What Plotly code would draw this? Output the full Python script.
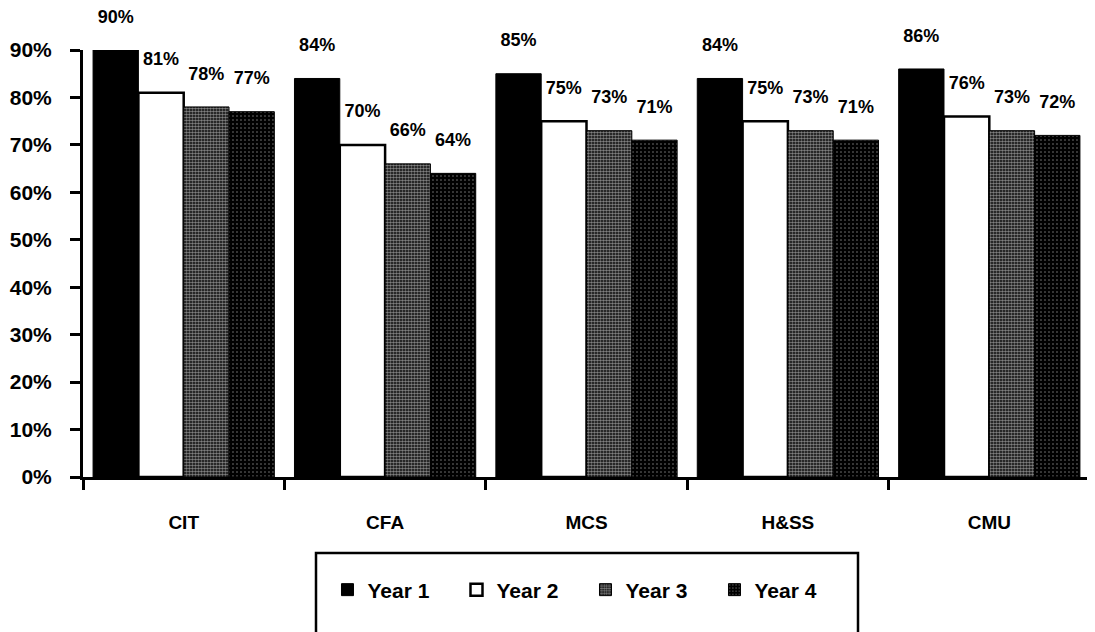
import plotly.graph_objects as go

categories = ["CIT", "CFA", "MCS", "H&SS", "CMU"]
series_names = ["Year 1", "Year 2", "Year 3", "Year 4"]
year1 = [90, 84, 85, 84, 86]
year2 = [81, 70, 75, 75, 76]
year3 = [78, 66, 73, 73, 73]
year4 = [77, 64, 71, 71, 72]
y_ticks = [0, 10, 20, 30, 40, 50, 60, 70, 80, 90]

FONT = "Liberation Sans, Arial, Helvetica, sans-serif"

styles = [
    dict(color="black", line=dict(color="black", width=1)),
    dict(color="white", line=dict(color="black", width=2.5)),
    dict(color="black", line=dict(color="black", width=1),
         pattern=dict(shape=".", fgcolor="white", bgcolor="black", size=3, solidity=0.6)),
    dict(color="black", line=dict(color="black", width=1),
         pattern=dict(shape=".", fgcolor="white", bgcolor="black", size=4, solidity=0.12)),
]

fig = go.Figure()
for name, vals, st in zip(series_names, [year1, year2, year3, year4], styles):
    fig.add_trace(go.Bar(
        name=name, x=categories, y=vals, marker=st,
        text=[f"{v}%<br><span style='font-size:4px'> </span>" for v in vals],
        textposition="outside", cliponaxis=False,
        textfont=dict(family=FONT, size=18, color="black", weight="bold"),
    ))

# plot area: page x 83..1090, page y 50..477 (page body has an 8px offset)
fig.update_layout(
    width=1095, height=632,
    margin=dict(l=75, r=13, t=42, b=163, autoexpand=False),
    barmode="group", bargap=0.1, bargroupgap=0,
    plot_bgcolor="white", paper_bgcolor="white",
    font=dict(family=FONT, color="black", weight="bold"),
    showlegend=True,
    legend=dict(orientation="h", x=0.499, xanchor="center", y=-0.2646, yanchor="middle",
                font=dict(family=FONT, size=21, color="black", weight="bold"),
                entrywidth=84, bgcolor="rgba(0,0,0,0)", borderwidth=0),
    shapes=[dict(type="rect", xref="paper", yref="paper",
                 x0=(316 - 83) / 1007, x1=(858 - 83) / 1007, y0=-0.42, y1=(477 - 553) / 427,
                 line=dict(color="black", width=2.5), fillcolor="rgba(0,0,0,0)", layer="below")],
)
fig.update_xaxes(
    type="category", range=[-0.5, 4.5], showline=True, linecolor="black", linewidth=3,
    ticks="outside", tickson="boundaries", ticklen=10, tickwidth=3, tickcolor="black",
    tickfont=dict(family=FONT, size=19, color="black", weight="bold"),
    ticklabelstandoff=26, showgrid=False, zeroline=False, automargin=False,
)
fig.update_yaxes(
    range=[0, 90], tickvals=y_ticks, ticktext=[f"{v}%" for v in y_ticks],
    showline=True, linecolor="black", linewidth=3,
    ticks="outside", ticklen=10, tickwidth=3, tickcolor="black",
    tickfont=dict(family=FONT, size=21, color="black", weight="bold"),
    ticklabelstandoff=14, showgrid=False, zeroline=False, automargin=False,
)

fig.write_html("out.html")
